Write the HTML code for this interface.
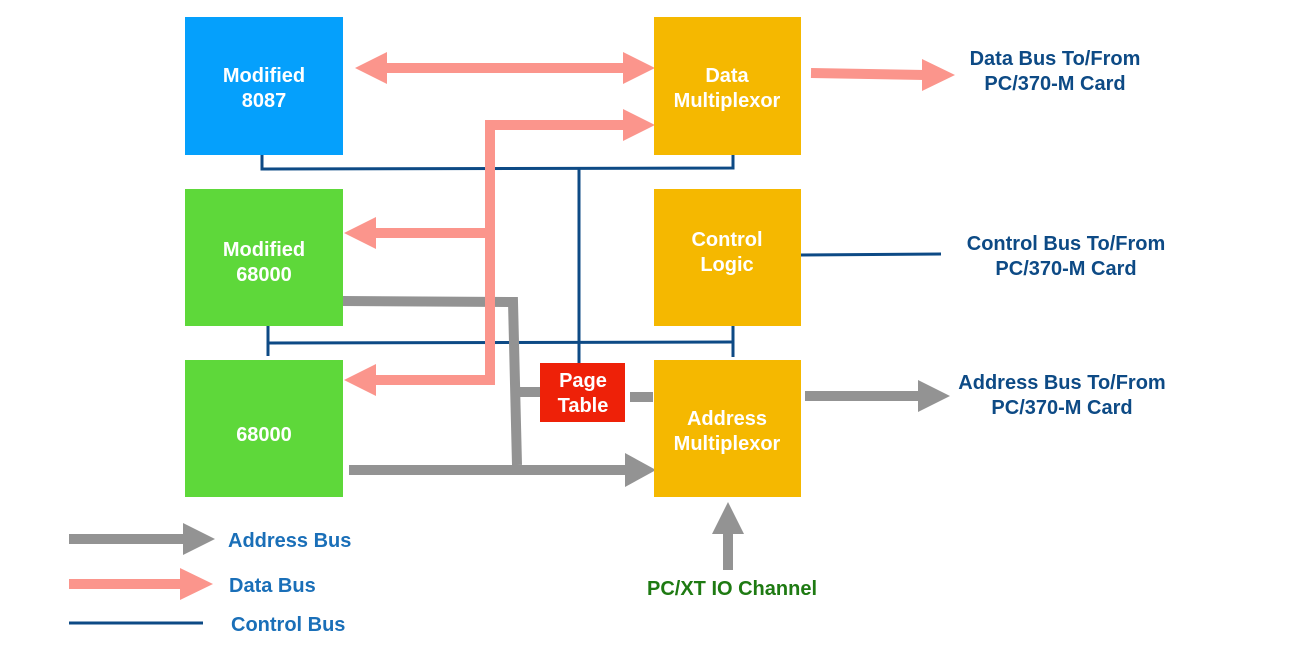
<!DOCTYPE html>
<html><head><style>body{margin:0;background:#fff}svg{display:block}</style></head><body>
<svg width="1300" height="650" viewBox="0 0 1300 650" xmlns="http://www.w3.org/2000/svg" font-family="Liberation Sans, sans-serif" font-weight="bold">
<g stroke="#0d4a85" stroke-width="3" fill="none">
<polyline points="262,155 262,169 733,168 733,155"/>
<line x1="579" y1="168" x2="579" y2="363"/>
<polyline points="268,326 268,356"/>
<line x1="268" y1="343" x2="733" y2="342"/>
<line x1="733" y1="326" x2="733" y2="357"/>
<line x1="801" y1="255" x2="941" y2="254"/>
<line x1="69" y1="623" x2="203" y2="623"/>
</g>
<g stroke="#939393" stroke-width="10" fill="none">
<polyline points="342,301 513,302 517,465"/>
<line x1="515" y1="392" x2="540" y2="392"/>
<line x1="630" y1="397" x2="653" y2="397"/>
<line x1="349" y1="470" x2="630" y2="470"/>
<line x1="805" y1="396" x2="922" y2="396"/>
<line x1="728" y1="570" x2="728" y2="532"/>
<line x1="69" y1="539" x2="185" y2="539"/>
</g>
<g fill="#939393">
<polygon points="625,453 656,470 625,487"/>
<polygon points="918,380 950,396 918,412"/>
<polygon points="712,534 728,502 744,534"/>
<polygon points="183,523 215,539 183,555"/>
</g>
<g stroke="#fb958c" stroke-width="10" fill="none">
<line x1="380" y1="68" x2="630" y2="68"/>
<polyline points="630,125 490,125 490,380 372,380"/>
<line x1="490" y1="233" x2="372" y2="233"/>
<line x1="811" y1="73" x2="925" y2="75"/>
<line x1="69" y1="584" x2="180" y2="584"/>
</g>
<g fill="#fb958c">
<polygon points="387,52 355,68 387,84"/>
<polygon points="623,52 655,68 623,84"/>
<polygon points="623,109 655,125 623,141"/>
<polygon points="376,217 344,233 376,249"/>
<polygon points="376,364 344,380 376,396"/>
<polygon points="922,59 955,75 922,91"/>
<polygon points="180,568 213,584 180,600"/>
</g>
<rect x="185" y="17" width="158" height="138" fill="#05a0fc"/>
<rect x="654" y="17" width="147" height="138" fill="#f5b800"/>
<rect x="185" y="189" width="158" height="137" fill="#5ed83a"/>
<rect x="654" y="189" width="147" height="137" fill="#f5b800"/>
<rect x="185" y="360" width="158" height="137" fill="#5ed83a"/>
<rect x="654" y="360" width="147" height="137" fill="#f5b800"/>
<rect x="540" y="363" width="85" height="59" fill="#ee2108"/>
<g fill="#fff" font-size="20" text-anchor="middle">
<text x="264" y="82">Modified</text><text x="264" y="107">8087</text>
<text x="727" y="82">Data</text><text x="727" y="107">Multiplexor</text>
<text x="264" y="256">Modified</text><text x="264" y="281">68000</text>
<text x="727" y="246">Control</text><text x="727" y="271">Logic</text>
<text x="264" y="441">68000</text>
<text x="727" y="425">Address</text><text x="727" y="450">Multiplexor</text>
<text x="583" y="387">Page</text><text x="583" y="412">Table</text>
</g>
<g fill="#0d4a85" font-size="20" text-anchor="middle">
<text x="1055" y="65">Data Bus To/From</text><text x="1055" y="90">PC/370-M Card</text>
<text x="1066" y="250">Control Bus To/From</text><text x="1066" y="275">PC/370-M Card</text>
<text x="1062" y="389">Address Bus To/From</text><text x="1062" y="414">PC/370-M Card</text>
</g>
<g fill="#1a6fb8" font-size="20">
<text x="228" y="547">Address Bus</text>
<text x="229" y="592">Data Bus</text>
<text x="231" y="631">Control Bus</text>
</g>
<text x="732" y="595" fill="#1e7a12" font-size="20" text-anchor="middle">PC/XT IO Channel</text>
</svg>
</body></html>
